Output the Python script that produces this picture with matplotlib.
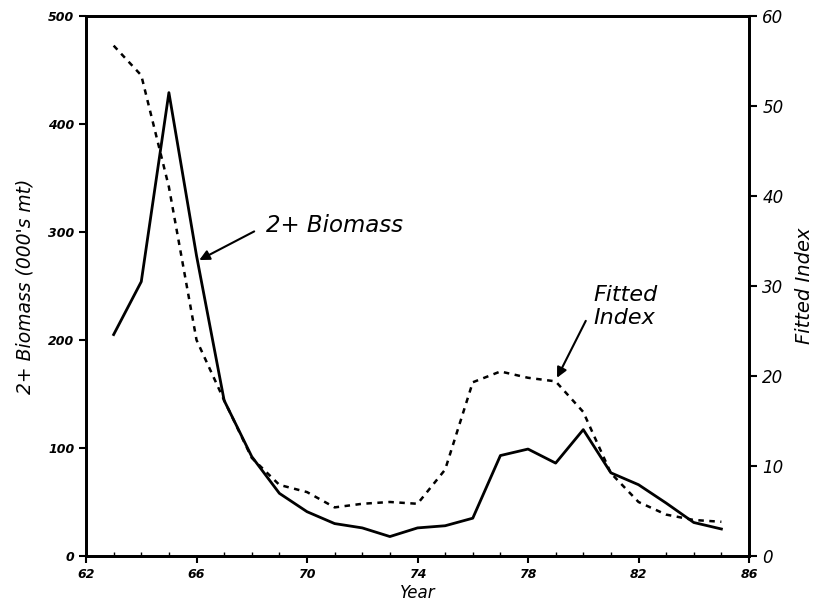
import numpy as np
import matplotlib.pyplot as plt
from matplotlib.ticker import MultipleLocator

years = list(range(63, 86))
biomass = [205, 254, 429, 278, 144, 92, 58, 41, 30, 26, 18, 26, 28, 35,
           93, 99, 86, 117, 77, 66, 49, 31, 25]
fitted_index = [56.7, 53.4, 41.0, 24.0, 17.3, 10.9, 7.9, 7.1, 5.4, 5.8, 6.0,
                5.8, 9.6, 19.3, 20.5, 19.8, 19.4, 16.0, 9.2, 6.0, 4.6, 4.0, 3.8]

x_ticks = [62, 66, 70, 74, 78, 82, 86]
left_ticks = [0, 100, 200, 300, 400, 500]
right_ticks = [0, 10, 20, 30, 40, 50, 60]

plt.rcParams['font.family'] = ['DejaVu Sans']

fig = plt.figure(figsize=(8.24, 6.13), dpi=100)
ax = fig.add_axes([0.1044, 0.093, 0.8046, 0.881])
ax2 = ax.twinx()

ax.plot(years, biomass, c="black", linewidth=2, zorder=5)
ax2.plot(years, fitted_index, c="black", linewidth=1.8,
         linestyle=(0, (2.2, 2.2)), zorder=5)

ax.set_xlim(62, 86)
ax.set_ylim(0, 500)
ax2.set_ylim(0, 60)

ax.set_xticks(x_ticks)
ax.xaxis.set_minor_locator(MultipleLocator(1))
ax.set_yticks(left_ticks)
ax2.set_yticks(right_ticks)

ax.tick_params(axis='x', which='major', direction='out', length=5, width=1.5,
               labelsize=9)
ax.tick_params(axis='x', which='minor', direction='in', length=3, width=1)
ax.tick_params(axis='y', which='major', direction='out', length=5, width=1.5,
               labelsize=9)
ax2.tick_params(axis='y', which='major', direction='out', length=6, width=1.5,
                labelsize=12)

for lab in ax.get_xticklabels() + ax.get_yticklabels():
    lab.set_fontstyle('italic')
    lab.set_fontweight('bold')
for lab in ax2.get_yticklabels():
    lab.set_fontstyle('italic')

for sp in ax.spines.values():
    sp.set_linewidth(2)
for sp in ax2.spines.values():
    sp.set_linewidth(2)

ax.set_xlabel("Year", fontsize=12, fontstyle='italic', labelpad=2)
ax.set_ylabel("2+ Biomass (000's mt)", fontsize=13.5, fontstyle='italic',
              labelpad=10)
ax2.set_ylabel("Fitted Index", fontsize=14, fontstyle='italic', labelpad=8)

ax.annotate("2+ Biomass", xy=(66.1, 274), xytext=(68.5, 306),
            fontsize=16.5, fontstyle='italic', va='center', ha='left',
            arrowprops=dict(arrowstyle='-|>', color='black', lw=1.5,
                            shrinkA=7, shrinkB=0, mutation_scale=15,
                            relpos=(0.0, 0.5)))
ax2.annotate("Fitted\nIndex", xy=(79.05, 19.8), xytext=(80.35, 27.7),
             fontsize=16, fontstyle='italic', va='center', ha='left',
             linespacing=1.2,
             arrowprops=dict(arrowstyle='-|>', color='black', lw=1.5,
                             shrinkA=7, shrinkB=0, mutation_scale=15,
                             relpos=(0.0, 0.5)))

plt.savefig("out.png", dpi=100)
